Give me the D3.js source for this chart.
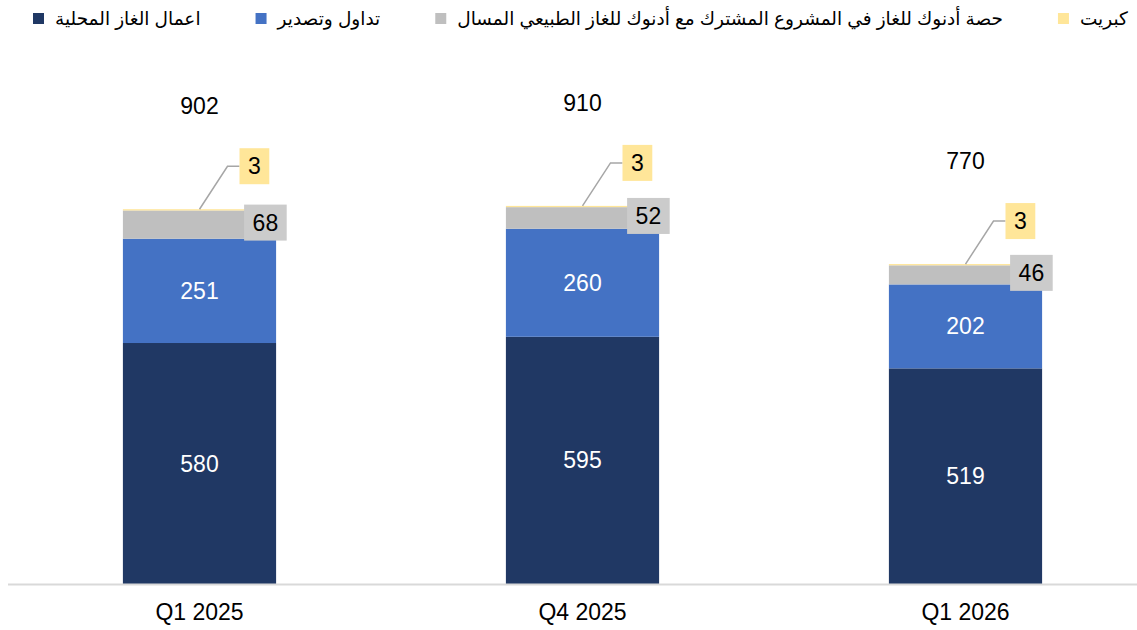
<!DOCTYPE html>
<html><head><meta charset="utf-8">
<script src="https://cdn.jsdelivr.net/npm/d3@7/dist/d3.min.js"></script>
<style>
html,body{margin:0;padding:0;background:#fff;}
svg{display:block;font-family:"Liberation Sans",Arial,"DejaVu Sans",sans-serif;}
</style></head>
<body>
<svg id="chart" width="1137" height="630"></svg>
<script>
const categories = ["Q1 2025", "Q4 2025", "Q1 2026"];
const domesticGas = [580, 595, 519];
const tradingExport = [251, 260, 202];
const jvShare = [68, 52, 46];
const sulphur = [3, 3, 3];
const totals = [902, 910, 770];
const seriesNames = ["اعمال الغاز المحلية", "تداول وتصدير", "حصة أدنوك للغاز في المشروع المشترك مع أدنوك للغاز الطبيعي المسال", "كبريت"];
const seriesColors = ["#203864", "#4472C4", "#BFBFBF", "#FFE699"];

const svg = d3.select("#chart");
const W = 1137;
const x = d3.scaleBand().domain(categories).range([8, 1157]).paddingInner(0.6).paddingOuter(0.3);
const y = d3.scaleLinear().domain([0, 1200]).range([584, 85.4]);

const keys = ["s0","s1","s2","s3"];
const rows = categories.map((c, i) => ({cat: c, s0: domesticGas[i], s1: tradingExport[i], s2: jvShare[i], s3: sulphur[i], total: totals[i]}));
const stacked = d3.stack().keys(keys)(rows);

// bars
stacked.forEach((layer, li) => {
  svg.append("g").selectAll("rect").data(layer).join("rect")
    .attr("x", d => x(d.data.cat))
    .attr("width", x.bandwidth())
    .attr("y", d => y(d[1]))
    .attr("height", d => y(d[0]) - y(d[1]))
    .attr("fill", seriesColors[li]);
});

// axis line
svg.append("line").attr("x1", 8).attr("x2", W).attr("y1", y(0) + 0.5).attr("y2", y(0) + 0.5)
  .attr("stroke", "#D9D9D9").attr("stroke-width", 2);

// x labels
svg.append("g").selectAll("text").data(categories).join("text")
  .attr("x", d => x(d) + x.bandwidth() / 2)
  .attr("y", 612).attr("dy", "0.35em")
  .attr("text-anchor", "middle").attr("font-size", 23).attr("fill", "#000")
  .text(d => d);

// inner labels (white)
[0, 1].forEach(li => {
  svg.append("g").selectAll("text").data(stacked[li]).join("text")
    .attr("x", d => x(d.data.cat) + x.bandwidth() / 2)
    .attr("y", d => (y(d[0]) + y(d[1])) / 2).attr("dy", "0.35em")
    .attr("text-anchor", "middle").attr("font-size", 23).attr("fill", "#fff")
    .text(d => d[1] - d[0]);
});

const fs = 23;
// gray label boxes (jv share)
stacked[2].forEach(d => {
  const g = svg.append("g");
  const t = g.append("text").attr("font-size", fs).attr("fill", "#000").text(d[1] - d[0]);
  const tw = t.node().getComputedTextLength();
  const bx = x(d.data.cat) + x.bandwidth() - 32;
  const bw = tw + 17;
  const cy = (y(d[0]) + y(d[1])) / 2 - 2;
  g.insert("rect", "text").attr("x", bx).attr("y", cy - 18).attr("width", bw).attr("height", 36).attr("fill", "#CBCBCB");
  t.attr("x", bx + 8.5).attr("y", cy).attr("dy", "0.35em");
});

// sulphur callouts
stacked[3].forEach(d => {
  const cx = x(d.data.cat) + x.bandwidth() / 2;
  const top = y(d[1]);
  const g = svg.append("g");
  const t = g.append("text").attr("font-size", fs).attr("fill", "#000").text(d[1] - d[0]);
  const tw = t.node().getComputedTextLength();
  const bx = cx + 40;
  const by = top - 43;
  const bw = tw + 17;
  g.insert("rect", "text").attr("x", bx).attr("y", by - 18).attr("width", bw).attr("height", 36).attr("fill", "#FFE699");
  t.attr("x", bx + 8.5).attr("y", by).attr("dy", "0.35em");
  g.insert("polyline", "rect").attr("points", `${cx},${top} ${bx - 12},${by} ${bx},${by}`)
    .attr("fill", "none").attr("stroke", "#A6A6A6").attr("stroke-width", 1.5);
});

// totals
svg.append("g").selectAll("text").data(rows).join("text")
  .attr("x", d => x(d.cat) + x.bandwidth() / 2)
  .attr("y", d => y(d.total) - 103).attr("dy", "0.35em")
  .attr("text-anchor", "middle").attr("font-size", 23).attr("fill", "#000")
  .text(d => d.total);

// legend
const leg = svg.append("g");
let lx = 33;
seriesNames.forEach((name, i) => {
  leg.append("rect").attr("x", lx).attr("y", 13).attr("width", 11).attr("height", 11).attr("fill", seriesColors[i]);
  const t = leg.append("text").attr("x", lx + 22).attr("y", 19).attr("dy", "0.35em")
    .attr("font-size", 18.5).attr("fill", "#000").text(name);
  const tw = t.node().getComputedTextLength();
  lx += 22 + tw + 55;
});
</script>
</body></html>
